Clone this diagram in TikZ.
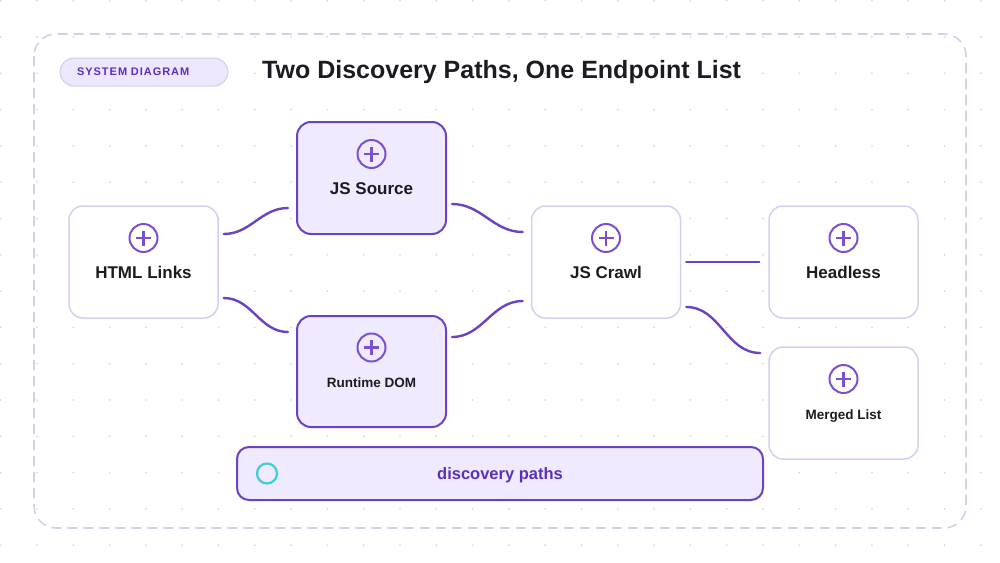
\documentclass[tikz,border=0pt]{standalone}
\usepackage{fontspec}
\setmainfont{Liberation Sans}
\usepackage{tikz}
\usetikzlibrary{calc}

\definecolor{ink}{HTML}{1C1B22}
\definecolor{purp}{HTML}{6C42C4}
\definecolor{plusc}{HTML}{7A50D0}
\definecolor{lav}{HTML}{EFEAFD}
\definecolor{softline}{HTML}{D5CEF3}
\definecolor{badgefill}{HTML}{ECE7FC}
\definecolor{badgeline}{HTML}{D2CBF1}
\definecolor{badgetext}{HTML}{5B2FB9}
\definecolor{cyanc}{HTML}{3ECFD6}
\definecolor{framec}{HTML}{D3CFEB}
\definecolor{dotc}{HTML}{D6D6DC}

\begin{document}
\begin{tikzpicture}[x=1pt,y=-1pt,
  box/.style={rectangle, rounded corners=14pt, minimum width=149pt, minimum height=112pt, draw=softline, line width=1.5pt, fill=white},
  hotbox/.style={box, draw=purp, line width=2pt, fill=lav},
  plusmark/.style={circle, draw=plusc, line width=2pt, minimum size=28pt, inner sep=0pt},
  lbl/.style={anchor=base, inner sep=0pt, text=ink, font=\fontsize{17}{20}\selectfont\bfseries},
  small lbl/.style={lbl, font=\fontsize{13.5}{16}\selectfont\bfseries},
  wire/.style={draw=purp, line width=2.4pt, line cap=round}]

\useasboundingbox (0,0) rectangle (1000,562);

% dot grid and frame
\foreach \i in {0,...,27}
  \foreach \j in {0,...,15}
    \fill[dotc] (0.7+36.3*\i, 0.7+36.3*\j) circle (1);
\draw[framec, line width=1.6pt, dash pattern=on 10pt off 6pt, rounded corners=22pt] (34,34) rectangle (966,528);

% header
\node[draw=badgeline, fill=badgefill, line width=1pt, rounded corners=14pt, minimum height=28pt,
  text width=134pt, align=left, inner xsep=17pt, text=badgetext,
  font=\fontsize{11}{13}\selectfont\bfseries\addfontfeatures{LetterSpace=9}] (badge) at (144,72) {SYSTEM DIAGRAM};
\node[anchor=west, inner sep=0pt, text=ink, font=\fontsize{25}{28}\selectfont\bfseries] (title) at (262,72) {Two Discovery Paths, One Endpoint List};

% boxes
\node[box] (html) at (143.5,262) {};
\node[hotbox] (jssrc) at (371.5,178) {};
\node[hotbox, minimum height=111pt] (dom) at (371.5,371.5) {};
\node[box] (crawl) at (606,262) {};
\node[box] (head) at (843.5,262) {};
\node[box] (merged) at (843.5,403) {};

\foreach \n/\t/\s in {html/HTML Links/lbl, jssrc/JS Source/lbl, dom/Runtime DOM/small lbl,
    crawl/JS Crawl/lbl, head/Headless/lbl, merged/Merged List/small lbl} {
  \node[plusmark] (\n-plus) at ($(\n.center)+(0,-24)$) {};
  \draw[plusc, line width=2.3pt] ($(\n-plus)+(-7.5,0)$) -- ($(\n-plus)+(7.5,0)$)
    ($(\n-plus)+(0,-7.5)$) -- ($(\n-plus)+(0,7.5)$);
  \node[\s] (\n-txt) at ($(\n.center)+(0,16)$) {\t};
}

% connectors
\draw[wire] ($(html.east)+(5,-28)$) to[out=0,in=180] ($(jssrc.west)+(-8,30)$);
\draw[wire] ($(html.east)+(5,36)$) to[out=0,in=180] ($(dom.west)+(-8,-39.5)$);
\draw[wire] ($(jssrc.east)+(5,26)$) to[out=0,in=180] ($(crawl.west)+(-8,-30)$);
\draw[wire] ($(dom.east)+(5,-34.5)$) to[out=0,in=180] ($(crawl.west)+(-8,39)$);
\draw[wire] ($(crawl.east)+(5,0)$) -- ($(head.west)+(-9,0)$);
\draw[wire] ($(crawl.east)+(5,45)$) to[out=0,in=180] ($(merged.west)+(-8,-50)$);

% legend
\node[hotbox, rounded corners=12pt, minimum width=526pt, minimum height=53pt] (legend) at (500,473.5) {};
\node[circle, draw=cyanc, line width=2.2pt, minimum size=20pt, inner sep=0pt] (legend-dot) at ($(legend.west)+(31,0)$) {};
\node[anchor=base, inner sep=0pt, text=badgetext, font=\fontsize{16.5}{19}\selectfont\bfseries] (legend-txt) at ($(legend.center)+(0,6)$) {discovery paths};

\end{tikzpicture}
\end{document}
